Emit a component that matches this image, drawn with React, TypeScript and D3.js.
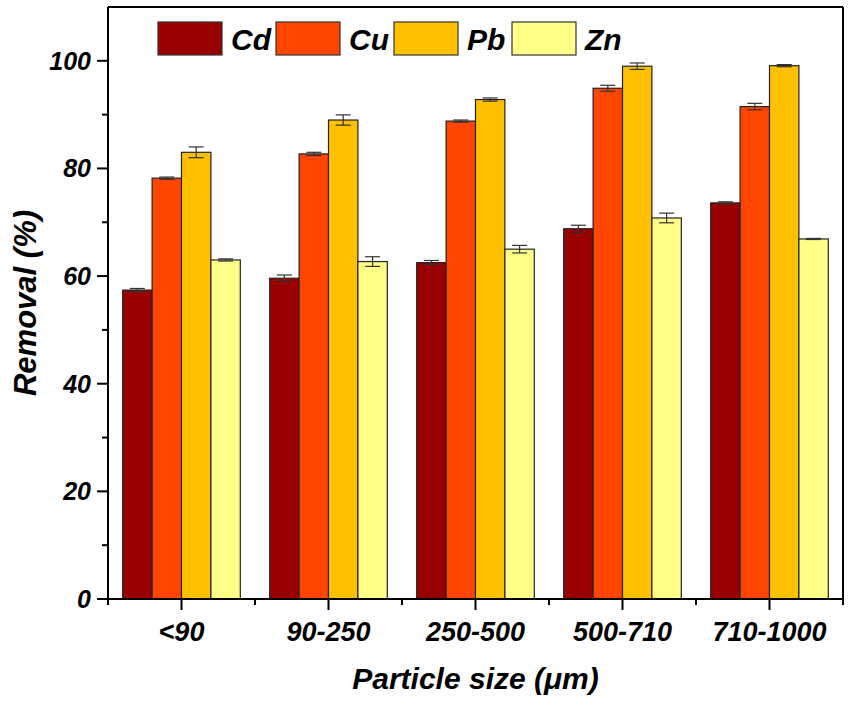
import React from "react";
import * as d3 from "d3";

// ─── Data ─────────────────────────────────────────────────────────────────────
const categories = ["<90", "90-250", "250-500", "500-710", "710-1000"];
const seriesNames = ["Cd", "Cu", "Pb", "Zn"];
const cdValues = [57.4, 59.6, 62.5, 68.8, 73.6];
const cuValues = [78.2, 82.7, 88.8, 94.9, 91.5];
const pbValues = [83.0, 89.0, 92.8, 99.0, 99.1];
const znValues = [63.0, 62.7, 65.0, 70.8, 66.9];
const cdErrors = [0.3, 0.6, 0.4, 0.65, 0.2];
const cuErrors = [0.2, 0.3, 0.2, 0.55, 0.6];
const pbErrors = [1.0, 0.95, 0.3, 0.6, 0.2];
const znErrors = [0.2, 0.9, 0.7, 0.9, 0.1];
const yMajorTicks = [0, 20, 40, 60, 80, 100];
const yMinorTicks = [10, 30, 50, 70, 90];

// ─── Design tokens ────────────────────────────────────────────────────────────
const W = 851;
const H = 708;
const MARGIN = { top: 7, right: 8, bottom: 109, left: 108 };
const COLORS = ["#990000", "#ff4500", "#ffc000", "#ffff88"];
const FONT = "'Liberation Sans', Arial, Helvetica, sans-serif";

const values = [cdValues, cuValues, pbValues, znValues];
const errors = [cdErrors, cuErrors, pbErrors, znErrors];

export default function App() {
  const iW = W - MARGIN.left - MARGIN.right;
  const iH = H - MARGIN.top - MARGIN.bottom;

  const x = d3.scaleBand<string>().domain(categories).range([0, iW]).paddingInner(0.2).paddingOuter(0.1);
  const xOuter = d3.scaleBand<string>().domain(categories).range([0, iW]);
  const xInner = d3.scaleBand<string>().domain(seriesNames).range([0, x.bandwidth()]);
  const y = d3.scaleLinear().domain([0, 110]).range([iH, 0]);

  const boundaries = d3.range(categories.length + 1).map((i) => i * xOuter.step());

  return (
    <svg
      width={W}
      height={H}
      style={{ position: "absolute", left: 0, top: 0, background: "#fff", fontFamily: FONT }}
    >
      <g transform={`translate(${MARGIN.left},${MARGIN.top})`}>
        {/* bars */}
        {categories.map((c, ci) => {
          const gx = xOuter(c)! + (xOuter.bandwidth() - x.bandwidth()) / 2;
          return (
            <g key={c} transform={`translate(${gx},0)`}>
              {seriesNames.map((s, si) => {
                const v = values[si][ci];
                const e = errors[si][ci];
                const bx = xInner(s)!;
                const bw = xInner.bandwidth();
                const cx = bx + bw / 2;
                return (
                  <g key={s}>
                    <rect
                      x={bx}
                      y={y(v)}
                      width={bw}
                      height={iH - y(v)}
                      fill={COLORS[si]}
                      stroke="#222"
                      strokeWidth={1.2}
                    />
                    <g stroke="#333" strokeWidth={1.2}>
                      <line x1={cx} x2={cx} y1={y(v + e)} y2={y(v - e)} />
                      <line x1={cx - 7.5} x2={cx + 7.5} y1={y(v + e)} y2={y(v + e)} />
                      <line x1={cx - 7.5} x2={cx + 7.5} y1={y(v - e)} y2={y(v - e)} />
                    </g>
                  </g>
                );
              })}
            </g>
          );
        })}

        {/* frame */}
        <line x1={0} x2={iW} y1={0} y2={0} stroke="#000" strokeWidth={2} />
        <line x1={iW} x2={iW} y1={0} y2={iH} stroke="#000" strokeWidth={2} />

        {/* y axis */}
        <line x1={0} x2={0} y1={0} y2={iH} stroke="#000" strokeWidth={2} />
        {yMajorTicks.map((t) => (
          <g key={t} transform={`translate(0,${y(t)})`}>
            <line x1={-11} x2={0} stroke="#000" strokeWidth={2} />
            <text
              x={-17}
              dy="0.36em"
              textAnchor="end"
              fontSize={25}
              fontWeight="bold"
              fontStyle="italic"
            >
              {t}
            </text>
          </g>
        ))}
        {yMinorTicks.map((t) => (
          <line key={t} x1={-6} x2={0} y1={y(t)} y2={y(t)} stroke="#000" strokeWidth={2} />
        ))}

        {/* x axis */}
        <line x1={0} x2={iW} y1={iH} y2={iH} stroke="#000" strokeWidth={2} />
        {categories.map((c) => {
          const cx = xOuter(c)! + xOuter.bandwidth() / 2;
          return (
            <g key={c} transform={`translate(${cx},${iH})`}>
              <line y1={0} y2={11} stroke="#000" strokeWidth={2} />
              <text
                y={42}
                textAnchor="middle"
                fontSize={27}
                fontWeight="bold"
                fontStyle="italic"
              >
                {c}
              </text>
            </g>
          );
        })}
        {boundaries.map((b, i) => (
          <line key={i} x1={b} x2={b} y1={iH} y2={iH + 6} stroke="#000" strokeWidth={2} />
        ))}

        {/* axis titles */}
        <text
          x={iW / 2}
          y={iH + 90}
          textAnchor="middle"
          fontSize={30}
          fontWeight="bold"
          fontStyle="italic"
        >
          Particle size (μm)
        </text>
        <text
          transform={`translate(${-72},${iH / 2}) rotate(-90)`}
          textAnchor="middle"
          fontSize={31}
          fontWeight="bold"
          fontStyle="italic"
        >
          Removal (%)
        </text>

        {/* legend */}
        {seriesNames.map((s, i) => (
          <g key={s} transform={`translate(${50 + i * 118},${15})`}>
            <rect width={64} height={33} fill={COLORS[i]} stroke="#333" strokeWidth={1.2} />
            <text
              x={73}
              y={28}
              fontSize={30}
              fontWeight="bold"
              fontStyle="italic"
            >
              {s}
            </text>
          </g>
        ))}
      </g>
    </svg>
  );
}
